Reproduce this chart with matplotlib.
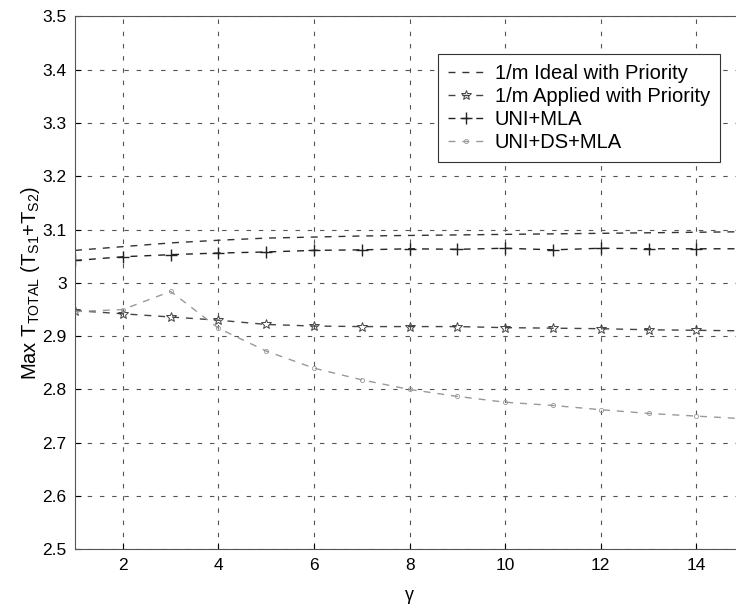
import matplotlib
matplotlib.use("Agg")
import matplotlib.pyplot as plt
from matplotlib.ticker import FormatStrFormatter, MultipleLocator

# gamma values
gamma = [1, 2, 3, 4, 5, 6, 7, 8, 9, 10, 11, 12, 13, 14, 15]

ideal_prio = [3.061, 3.068, 3.075, 3.080, 3.084, 3.086, 3.088, 3.089,
              3.090, 3.091, 3.092, 3.093, 3.094, 3.095, 3.096]
applied_prio = [2.948, 2.942, 2.936, 2.930, 2.922, 2.919, 2.918, 2.918,
                2.918, 2.916, 2.915, 2.914, 2.912, 2.911, 2.910]
uni_mla = [3.042, 3.049, 3.053, 3.056, 3.058, 3.061, 3.062, 3.064,
           3.063, 3.065, 3.062, 3.065, 3.064, 3.064, 3.064]
uni_ds_mla = [2.946, 2.950, 2.984, 2.915, 2.872, 2.840, 2.818, 2.800,
              2.787, 2.776, 2.770, 2.762, 2.755, 2.750, 2.745]

labels = ["1/m Ideal with Priority", "1/m Applied with Priority",
          "UNI+MLA", "UNI+DS+MLA"]

plt.rcParams["font.family"] = ["Liberation Sans", "DejaVu Sans"]
plt.rcParams["mathtext.fontset"] = "custom"
plt.rcParams["mathtext.rm"] = "Liberation Sans"
plt.rcParams["mathtext.it"] = "Liberation Sans:italic"

fig = plt.figure(figsize=(7.36, 6.09), dpi=100)
ax = fig.add_axes([0.102, 0.098, 0.909, 0.875])

dash = (0, (5, 5))
ax.plot(gamma, ideal_prio, linestyle=dash, color="#333333", lw=1.0,
        label=labels[0])
ax.plot(gamma, applied_prio, linestyle=dash, color="#444444", lw=1.0,
        marker="*", markersize=7, markerfacecolor="none",
        markeredgewidth=0.7, label=labels[1])
ax.plot(gamma, uni_mla, linestyle=dash, color="#222222", lw=1.0,
        marker="+", markersize=8, markeredgewidth=1.0, label=labels[2])
ax.plot(gamma, uni_ds_mla, linestyle=dash, color="#999999", lw=1.0,
        marker="o", markersize=3, markerfacecolor="none",
        markeredgewidth=0.6, label=labels[3])

ax.set_xlim(1, 15)
ax.set_ylim(2.5, 3.5)
ax.xaxis.set_major_locator(MultipleLocator(2))
ax.yaxis.set_major_locator(MultipleLocator(0.1))
ax.yaxis.set_major_formatter(FormatStrFormatter("%g"))
ax.grid(True, color="#555555", linestyle=(0, (4, 7)), linewidth=0.8)
ax.tick_params(direction="in", labelsize=12.5, length=4, pad=6)
for s in ax.spines.values():
    s.set_color("#555555")

ax.set_xlabel("γ", fontsize=13, labelpad=10)
ax.set_ylabel(r"Max T$_{\rm TOTAL}$ (T$_{\rm S1}$+T$_{\rm S2}$)", fontsize=14.5,
              labelpad=0)

leg = ax.legend(loc="upper right", bbox_to_anchor=(0.964, 0.929),
                fontsize=14.5, fancybox=False, framealpha=1,
                edgecolor="#333333", handlelength=1.8, handletextpad=0.5,
                borderpad=0.5, labelspacing=0.2, borderaxespad=0)
leg.get_frame().set_linewidth(0.8)

fig.savefig("out.png", dpi=100)
